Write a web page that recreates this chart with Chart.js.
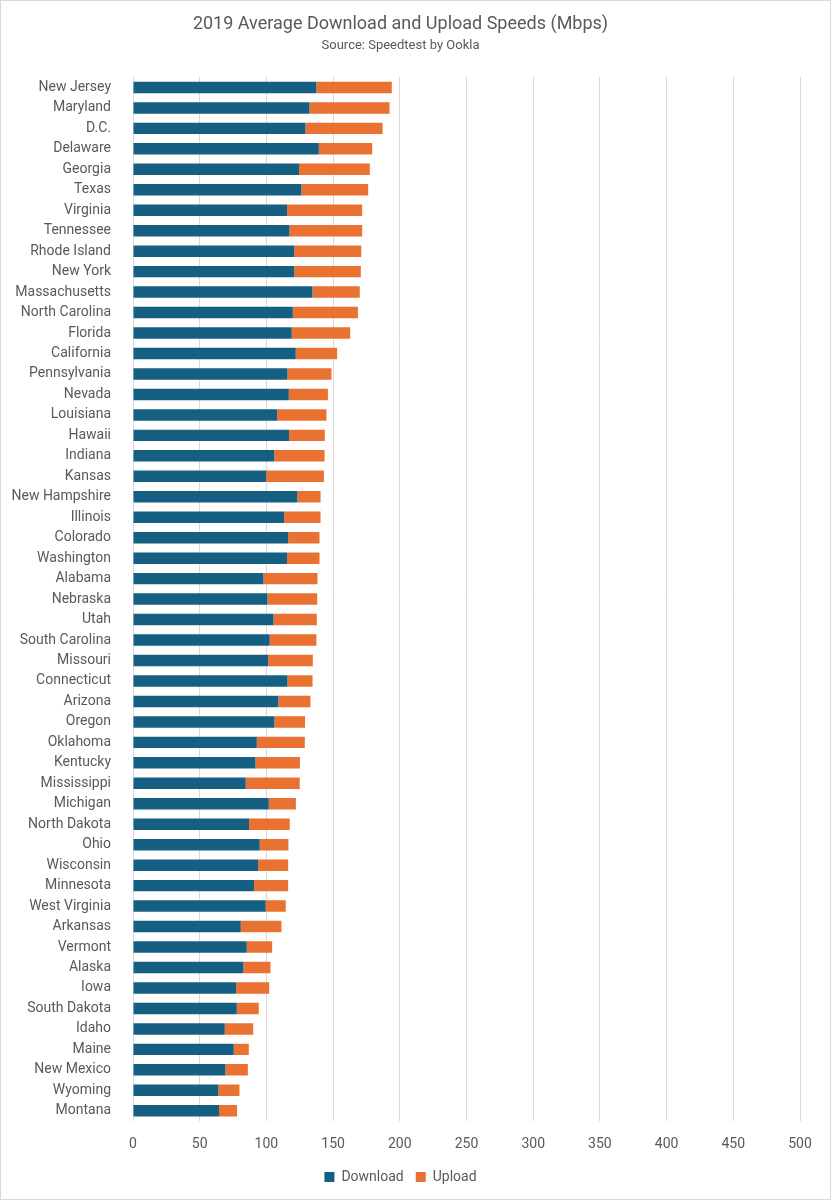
<!DOCTYPE html>
<html>
<head>
<meta charset="utf-8">
<script src="https://cdn.jsdelivr.net/npm/chart.js@4"></script>
<style>
  html, body { margin: 0; padding: 0; background: #fff; }
  #frame { width: 831px; height: 1200px; box-sizing: border-box; border: 1px solid #d9d9d9; }
  #wrap { position: relative; width: 829px; height: 1198px; }
</style>
</head>
<body>
<div id="frame"><div id="wrap"><canvas id="speedChart"></canvas></div></div>
<script>
// states, top to bottom
const states = [
  "New Jersey", "Maryland", "D.C.", "Delaware", "Georgia", "Texas", "Virginia",
  "Tennessee", "Rhode Island", "New York", "Massachusetts", "North Carolina",
  "Florida", "California", "Pennsylvania", "Nevada", "Louisiana", "Hawaii",
  "Indiana", "Kansas", "New Hampshire", "Illinois", "Colorado", "Washington",
  "Alabama", "Nebraska", "Utah", "South Carolina", "Missouri", "Connecticut",
  "Arizona", "Oregon", "Oklahoma", "Kentucky", "Mississippi", "Michigan",
  "North Dakota", "Ohio", "Wisconsin", "Minnesota", "West Virginia", "Arkansas",
  "Vermont", "Alaska", "Iowa", "South Dakota", "Idaho", "Maine", "New Mexico",
  "Wyoming", "Montana"
];

const download = [
  137.5, 132.3, 129.3, 139.3, 124.5, 126.3, 115.5,
  117.3, 120.8, 120.8, 134.5, 119.8,
  119.0, 122.0, 115.8, 116.8, 108.0, 117.0,
  105.8, 99.8, 123.3, 113.3, 116.3, 115.5,
  97.8, 100.8, 105.3, 102.5, 101.3, 115.8,
  109.0, 106.0, 92.8, 91.8, 84.5, 101.8,
  87.0, 95.0, 93.8, 90.8, 99.5, 80.8,
  85.3, 82.8, 77.3, 77.8, 68.8, 75.5, 69.3,
  64.0, 64.5
];

const upload = [
  56.5, 60.0, 57.8, 40.0, 53.0, 50.0, 56.3,
  54.5, 50.3, 50.0, 35.5, 48.8,
  43.8, 31.0, 33.0, 29.3, 37.0, 26.8,
  37.8, 43.3, 17.3, 27.3, 23.5, 24.3,
  40.5, 37.3, 32.5, 35.0, 33.5, 18.8,
  24.0, 23.0, 36.0, 33.3, 40.5, 20.3,
  30.5, 21.5, 22.5, 25.5, 15.0, 30.5,
  19.0, 20.3, 24.8, 16.5, 21.3, 11.3, 16.8,
  15.8, 13.5
];

const xTicks = [0, 50, 100, 150, 200, 250, 300, 350, 400, 450, 500];

Chart.defaults.font.family = "Roboto, 'Noto Sans', sans-serif";
Chart.defaults.color = "#595959";

new Chart(document.getElementById("speedChart"), {
  type: "bar",
  data: {
    labels: states,
    datasets: [
      { label: "Download", data: download, backgroundColor: "#156082", barPercentage: 0.56, categoryPercentage: 1 },
      { label: "Upload", data: upload, backgroundColor: "#e97132", barPercentage: 0.56, categoryPercentage: 1 },
    ],
  },
  options: {
    indexAxis: "y",
    responsive: true,
    maintainAspectRatio: false,
    animation: false,
    layout: { padding: { left: 0, right: 30, top: 0, bottom: 5 } },
    plugins: {
      title: {
        display: true,
        text: "2019 Average Download and Upload Speeds (Mbps)",
        font: { size: 18, weight: "normal" },
        padding: { top: 13, bottom: 2 },
      },
      subtitle: {
        display: true,
        text: "Source: Speedtest by Ookla",
        font: { size: 13 },
        padding: { top: 0, bottom: 24 },
      },
      legend: {
        position: "bottom",
        labels: { boxWidth: 10, boxHeight: 10, padding: 12, font: { size: 14 } },
      },
      tooltip: { enabled: false },
    },
    scales: {
      x: {
        stacked: true,
        min: 0,
        max: 500,
        afterBuildTicks: (s) => { s.ticks = xTicks.map((v) => ({ value: v })); },
        afterFit: (s) => { s.height = 37; },
        grid: { color: "#d9d9d9", drawTicks: false },
        border: { display: false },
        ticks: { font: { size: 14 }, padding: 15 },
      },
      y: {
        stacked: true,
        afterFit: (s) => { s.width = 132; },
        grid: { display: false },
        border: { display: false },
        ticks: { font: { size: 14 }, padding: 14, autoSkip: false },
      },
    },
  },
});
</script>
</body>
</html>
